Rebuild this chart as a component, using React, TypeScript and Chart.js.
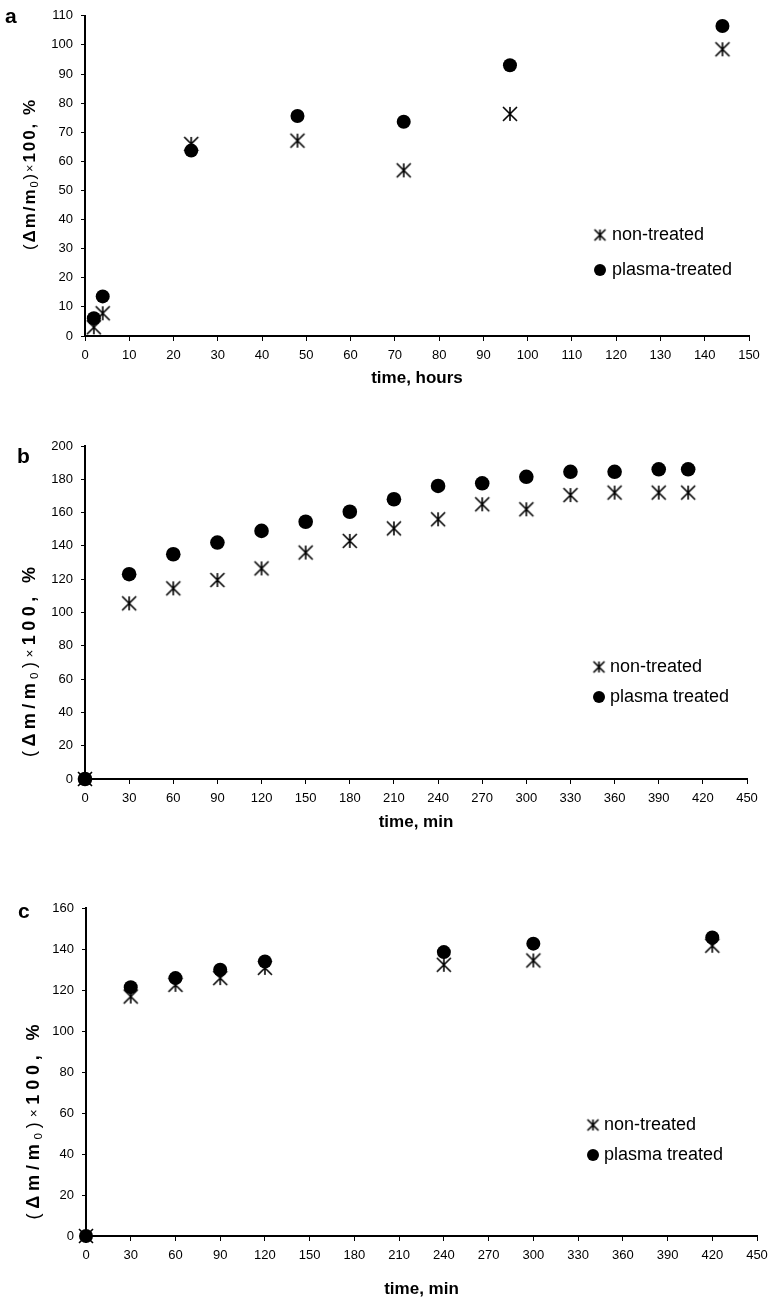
import React, { useEffect, useRef } from "react";
import { Chart, registerables } from "chart.js";

Chart.register(...registerables);

const FONT = "'Liberation Sans', Arial, Helvetica, sans-serif";

// ---------- Panel a (time in hours) ----------
const hoursA = [2, 4, 24, 48, 72, 96, 144];
const nonTreatedA = [3, 7.8, 66, 67.1, 56.9, 76.3, 98.5];
const plasmaA = [6.1, 13.6, 63.7, 75.6, 73.6, 93, 106.5];
const xTicksA = [0, 10, 20, 30, 40, 50, 60, 70, 80, 90, 100, 110, 120, 130, 140, 150];
const yTicksA = [0, 10, 20, 30, 40, 50, 60, 70, 80, 90, 100, 110];
const legendA = ["non-treated", "plasma-treated"];

// ---------- Panel b (time in minutes) ----------
const minutesB = [0, 30, 60, 90, 120, 150, 180, 210, 240, 270, 300, 330, 360, 390, 410];
const nonTreatedB = [0, 105.5, 114.5, 119.5, 126.5, 136, 143, 150.5, 156, 165, 162, 170.5, 172, 172, 172];
const plasmaB = [0, 123, 135, 142, 149, 154.5, 160.5, 168, 176, 177.6, 181.5, 184.5, 184.5, 186, 186];
const xTicksB = [0, 30, 60, 90, 120, 150, 180, 210, 240, 270, 300, 330, 360, 390, 420, 450];
const yTicksB = [0, 20, 40, 60, 80, 100, 120, 140, 160, 180, 200];
const legendB = ["non-treated", "plasma treated"];

// ---------- Panel c (time in minutes) ----------
const minutesC = [0, 30, 60, 90, 120, 240, 300, 420];
const nonTreatedC = [0, 116.8, 122.5, 125.8, 130.8, 132.3, 134.4, 141.6];
const plasmaC = [0, 121.4, 125.8, 129.9, 133.9, 138.5, 142.6, 145.6];
const xTicksC = [0, 30, 60, 90, 120, 150, 180, 210, 240, 270, 300, 330, 360, 390, 420, 450];
const yTicksC = [0, 20, 40, 60, 80, 100, 120, 140, 160];
const legendC = ["non-treated", "plasma treated"];

// y-axis title pieces: text, bold, relative size, subscript shift
const yTitleParts = [
  { t: "(", bold: false, scale: 1, shift: 0 },
  { t: "Δm/m", bold: true, scale: 1, shift: 0 },
  { t: "0", bold: false, scale: 0.65, shift: 0.28 },
  { t: ")", bold: false, scale: 1, shift: 0 },
  { t: "×", bold: false, scale: 0.75, shift: 0 },
  { t: "100, %", bold: true, scale: 1, shift: 0 },
];

const W = 776;

const panels = [
  {
    letter: "a", top: 0, height: 400,
    area: { left: 85, right: 749, top: 12, bottom: 336 },
    xs: hoursA, non: nonTreatedA, pla: plasmaA, xTicks: xTicksA, yTicks: yTicksA,
    xMax: 150, yMax: 110, xTitle: "time, hours", titleOffset: 22,
    letterPos: { x: 5, y: 23 }, yTitle: { cx: 30, cy: 175, len: 150, size: 17 },
    legend: { x: 600, y1: 235, y2: 270, tx: 612 }, labels: legendA, radius: 7,
  },
  {
    letter: "b", top: 400, height: 440,
    area: { left: 85, right: 747, top: 446, bottom: 779 },
    xs: minutesB, non: nonTreatedB, pla: plasmaB, xTicks: xTicksB, yTicks: yTicksB,
    xMax: 450, yMax: 200, xTitle: "time, min", titleOffset: 18,
    letterPos: { x: 17, y: 463 }, yTitle: { cx: 30, cy: 662, len: 190, size: 18 },
    legend: { x: 599, y1: 667, y2: 697, tx: 610 }, labels: legendB, radius: 7.3,
  },
  {
    letter: "c", top: 840, height: 465,
    area: { left: 86, right: 757, top: 908, bottom: 1236 },
    xs: minutesC, non: nonTreatedC, pla: plasmaC, xTicks: xTicksC, yTicks: yTicksC,
    xMax: 450, yMax: 160, xTitle: "time, min", titleOffset: 16,
    letterPos: { x: 18, y: 918 }, yTitle: { cx: 34, cy: 1122, len: 195, size: 18 },
    legend: { x: 593, y1: 1125, y2: 1155, tx: 604 }, labels: legendC, radius: 7,
  },
];

function makeAsterisk(size: number, lw: number): HTMLCanvasElement {
  const c = document.createElement("canvas");
  const pad = 2;
  c.width = size + 2 * pad;
  c.height = size + 2 * pad;
  const g = c.getContext("2d")!;
  g.strokeStyle = "#000";
  g.lineWidth = lw;
  const a = pad;
  const b = pad + size;
  const m = c.width / 2;
  g.beginPath();
  g.moveTo(m, a);
  g.lineTo(m, b);
  g.moveTo(a, a);
  g.lineTo(b, b);
  g.moveTo(b, a);
  g.lineTo(a, b);
  g.stroke();
  return c;
}

function drawYTitle(ctx: CanvasRenderingContext2D, cx: number, cy: number, len: number, size: number) {
  ctx.save();
  ctx.translate(cx, cy);
  ctx.rotate(-Math.PI / 2);
  ctx.textBaseline = "middle";
  ctx.textAlign = "left";
  ctx.fillStyle = "#000";
  const fontOf = (part: any) => `${part.bold ? "bold " : ""}${size * part.scale}px ${FONT}`;
  const chars: { ch: string; part: any; w: number }[] = [];
  let natural = 0;
  yTitleParts.forEach((part) => {
    ctx.font = fontOf(part);
    Array.from(part.t).forEach((ch) => {
      const w = ctx.measureText(ch).width;
      natural += w;
      chars.push({ ch, part, w });
    });
  });
  const ls = Math.max(0, (len - natural) / (chars.length - 1));
  const total = natural + ls * (chars.length - 1);
  let x = -total / 2;
  chars.forEach((c) => {
    ctx.font = fontOf(c.part);
    ctx.fillText(c.ch, x, c.part.shift * size);
    x += c.w + ls;
  });
  ctx.restore();
}

function PanelChart({ p }: { p: any }) {
  const ref = useRef<HTMLCanvasElement>(null);
  useEffect(() => {
    const canvas = ref.current!;
    const star = makeAsterisk(14, 1.6);
    const legendStar = makeAsterisk(11, 1.6);
    const decor = {
      id: "decor",
      afterDraw(chart: any) {
        const ctx: CanvasRenderingContext2D = chart.ctx;
        ctx.save();
        ctx.fillStyle = "#000";
        ctx.textAlign = "left";
        ctx.textBaseline = "alphabetic";
        ctx.font = `bold 21px ${FONT}`;
        ctx.fillText(p.letter, p.letterPos.x, p.letterPos.y - p.top);
        drawYTitle(ctx, p.yTitle.cx, p.yTitle.cy - p.top, p.yTitle.len, p.yTitle.size);
        const ly1 = p.legend.y1 - p.top;
        const ly2 = p.legend.y2 - p.top;
        ctx.drawImage(legendStar, p.legend.x - legendStar.width / 2, ly1 - legendStar.height / 2);
        ctx.beginPath();
        ctx.arc(p.legend.x, ly2, 6, 0, Math.PI * 2);
        ctx.fill();
        ctx.font = `18px ${FONT}`;
        ctx.textBaseline = "middle";
        ctx.fillText(p.labels[0], p.legend.tx, ly1);
        ctx.fillText(p.labels[1], p.legend.tx, ly2);
        ctx.restore();
      },
    };
    const chart = new Chart(canvas, {
      type: "scatter",
      data: {
        datasets: [
          {
            label: p.labels[1],
            data: p.xs.map((x: number, i: number) => ({ x, y: p.pla[i] })),
            pointStyle: "circle",
            pointRadius: p.radius,
            pointHoverRadius: p.radius,
            backgroundColor: "#000",
            borderColor: "#000",
            borderWidth: 0,
            order: 1,
            clip: false,
          },
          {
            label: p.labels[0],
            data: p.xs.map((x: number, i: number) => ({ x, y: p.non[i] })),
            pointStyle: star,
            pointRadius: 7,
            pointHoverRadius: 7,
            backgroundColor: "#000",
            borderColor: "#000",
            order: 2,
            clip: false,
          },
        ],
      },
      options: {
        animation: false,
        responsive: false,
        events: [],
        layout: {
          padding: { left: 0, right: W - p.area.right, top: p.area.top - p.top, bottom: 0 },
        },
        plugins: { legend: { display: false }, tooltip: { enabled: false } },
        scales: {
          x: {
            type: "linear",
            min: 0,
            max: p.xMax,
            afterBuildTicks: (s: any) => {
              s.ticks = p.xTicks.map((v: number) => ({ value: v }));
            },
            ticks: { color: "#000", font: { size: 13, family: FONT }, padding: 7, maxRotation: 0, autoSkip: false },
            grid: { drawOnChartArea: false, drawTicks: true, tickLength: 5, tickColor: "#000", tickWidth: 1 },
            border: { display: true, color: "#000", width: 2 },
            title: {
              display: true,
              text: p.xTitle,
              color: "#000",
              font: { size: 17, weight: "bold", family: FONT },
              padding: { top: 0, bottom: p.titleOffset - 10.2 },
            },
            afterFit: (s: any) => {
              s.height = p.top + p.height - p.area.bottom;
            },
          },
          y: {
            type: "linear",
            min: 0,
            max: p.yMax,
            afterBuildTicks: (s: any) => {
              s.ticks = p.yTicks.map((v: number) => ({ value: v }));
            },
            ticks: { color: "#000", font: { size: 13, family: FONT }, padding: 8 },
            grid: { drawOnChartArea: false, drawTicks: true, tickLength: 4, tickColor: "#000", tickWidth: 1 },
            border: { display: true, color: "#000", width: 2 },
            afterFit: (s: any) => {
              s.width = p.area.left;
            },
          },
        },
      },
      plugins: [decor],
    } as any);
    return () => chart.destroy();
  }, []);
  return (
    <canvas
      ref={ref}
      width={W}
      height={p.height}
      style={{ position: "absolute", left: 0, top: p.top, width: W, height: p.height, display: "block" }}
    />
  );
}

export default function App() {
  return (
    <div style={{ position: "absolute", left: 0, top: 0, width: W, height: 1305, background: "#fff" }}>
      {panels.map((p) => (
        <PanelChart key={p.letter} p={p} />
      ))}
    </div>
  );
}
